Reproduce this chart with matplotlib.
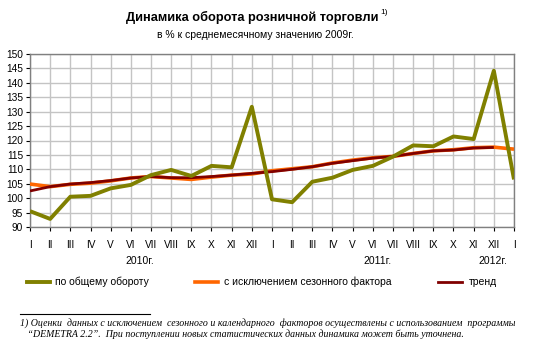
import matplotlib
matplotlib.use("Agg")
import matplotlib.pyplot as plt
from matplotlib.lines import Line2D

months = ["I", "II", "III", "IV", "V", "VI", "VII", "VIII", "IX", "X", "XI", "XII",
          "I", "II", "III", "IV", "V", "VI", "VII", "VIII", "IX", "X", "XI", "XII", "I"]
years = ["2010г.", "2011г.", "2012г."]

total = [95.5, 92.8, 100.5, 100.8, 103.4, 104.6, 108.0, 109.8, 107.7, 111.2, 110.7, 131.7,
         99.6, 98.6, 105.7, 107.1, 109.8, 111.2, 114.4, 118.3, 118.0, 121.4, 120.5, 144.2, 106.5]
seasonal = [104.9, 104.0, 104.8, 105.2, 106.0, 107.0, 107.5, 107.0, 106.5, 107.3, 108.0, 108.4,
            109.5, 110.2, 110.9, 112.2, 113.2, 114.0, 114.5, 115.5, 116.4, 116.8, 117.5, 117.7, 117.0]
trend = [102.5, 104.0, 104.9, 105.4, 106.1, 107.0, 107.5, 107.1, 107.1, 107.5, 108.0, 108.6,
         109.2, 110.0, 110.9, 112.1, 113.0, 113.9, 114.5, 115.5, 116.4, 116.7, 117.4, 117.6]

labels = ["по общему обороту", "с исключением сезонного фактора", "тренд"]
colors = ["#808000", "#FF6600", "#800000"]

plt.rcParams['font.family'] = ['Liberation Sans', 'DejaVu Sans']

W, H = 534, 351
fig = plt.figure(figsize=(W / 100, H / 100), dpi=100)
fig.patch.set_facecolor("white")

L, R, T, B = 30, 514, 54, 227
ax = fig.add_axes([L / W, 1 - B / H, (R - L) / W, (B - T) / H])

x_all = list(range(len(months)))
ax.plot(range(len(seasonal)), seasonal, color=colors[1], lw=2.6, solid_capstyle="butt", zorder=3)
ax.plot(range(len(trend)), trend, color=colors[2], lw=2.0, solid_capstyle="butt", zorder=4)
ax.plot(range(len(total)), total, color=colors[0], lw=2.8, solid_capstyle="butt", zorder=5)

ax.set_xlim(0, len(months) - 1)
ax.set_ylim(90, 150)
ax.set_yticks(range(90, 151, 5))
ax.set_xticks(x_all)
ax.set_xticklabels(months)
ax.grid(True, color="#C4C4C4", lw=1.0)
ax.set_axisbelow(True)
for s in ax.spines.values():
    s.set_color("#808080")
    s.set_linewidth(1.0)
ax.tick_params(axis="both", labelsize=7.3, color="#000000", length=3, width=0.8, direction="out")
ax.tick_params(axis="x", pad=6.5)
ax.tick_params(axis="y", pad=2)

# year labels
year_pos = [140, 378, 493]
for yl, xp in zip(years, year_pos):
    fig.text(xp / W, 1 - 261 / H, yl, ha="center", va="center", fontsize=7.5)

# title
fig.text(252 / W, 1 - 17 / H, "Динамика оборота розничной торговли", ha="center", va="center",
         fontsize=9.2, fontweight="bold")
fig.text(380 / W, 1 - 12 / H, "1)", ha="left", va="center", fontsize=6)
fig.text(255 / W, 1 - 35 / H, "в % к среднемесячному значению 2009г.", ha="center", va="center",
         fontsize=7.5)

# legend
leg_items = [(27, 50, 55), (195, 218, 224), (438, 462, 469)]
ly = 1 - 282 / H
lws = [2.8, 2.6, 2.0]
for (x0, x1, xt), lab, c, lw in zip(leg_items, labels, colors, lws):
    fig.add_artist(Line2D([x0 / W, x1 / W], [ly, ly], color=c, lw=lw, transform=fig.transFigure))
    fig.text(xt / W, ly, lab, ha="left", va="center", fontsize=7.5)

# footnote
fig.add_artist(Line2D([20 / W, 150 / W], [1 - 314 / H, 1 - 314 / H], color="black", lw=0.8,
                      transform=fig.transFigure))
fn1 = "1) Оценки  данных с исключением  сезонного и календарного  факторов осуществлены с использованием  программы"
fn2 = "   “DEMETRA 2.2”.  При поступлении новых статистических данных динамика может быть уточнена."
fig.text(20 / W, 1 - 323 / H, fn1, ha="left", va="center", fontsize=7.1, style="italic",
         family=["Liberation Serif", "DejaVu Serif"])
fig.text(20 / W, 1 - 334 / H, fn2, ha="left", va="center", fontsize=7.1, style="italic",
         family=["Liberation Serif", "DejaVu Serif"])

fig.savefig("out.png", dpi=100, facecolor="white")
